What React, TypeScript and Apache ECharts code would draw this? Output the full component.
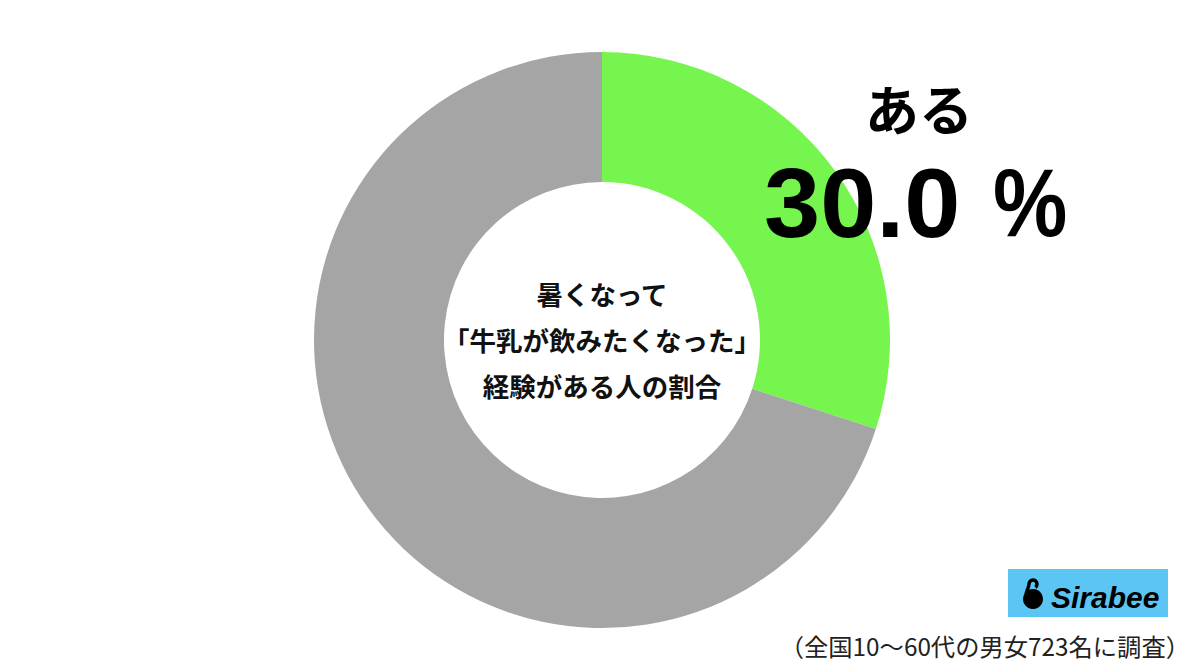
import React, { useEffect, useRef } from "react";
import * as echarts from "echarts";

const categories = ["ある", "ない"];
const values = [30.0, 70.0];
const colors = ["#76F54E", "#A5A5A5"];
const centerLines = ["暑くなって", "「牛乳が飲みたくなった」", "経験がある人の割合"];
const highlightLabel = "ある";
const highlightValue = "30.0";
const footnote = "（全国10〜60代の男女723名に調査）";

export default function App() {
  const ref = useRef<HTMLDivElement>(null);
  useEffect(() => {
    document.body.style.margin = "0";
    const chart = echarts.init(ref.current!, null, { renderer: "svg" });
    const jp = "'Noto Sans CJK JP', 'Noto Sans', sans-serif";
    chart.setOption({
      animation: false,
      backgroundColor: "#ffffff",
      series: [
        {
          type: "pie",
          center: [602, 340],
          radius: [158, 288],
          startAngle: 90,
          clockwise: true,
          silent: true,
          z: 1,
          label: { show: false },
          labelLine: { show: false },
          data: categories.map((c, i) => ({
            name: c,
            value: values[i],
            itemStyle: { color: colors[i] },
          })),
        },
      ],
      graphic: {
        elements: [
          ...centerLines.map((t, i) => ({
            type: "text",
            z: 100,
            x: 602,
            y: 293 + i * 46,
            style: {
              text: t,
              fill: "#111",
              font: `bold 26.5px ${jp}`,
              textAlign: "center",
              textVerticalAlign: "middle",
            },
          })),
          {
            type: "text",
            z: 100,
            x: 919,
            y: 107,
            style: {
              text: highlightLabel,
              fill: "#000",
              font: `bold 54px ${jp}`,
              textAlign: "center",
              textVerticalAlign: "middle",
            },
          },
          {
            type: "text",
            z: 100,
            x: 764,
            y: 203,
            scaleX: 1.03,
            style: {
              text: highlightValue,
              fill: "#000",
              font: "bold 98px 'Liberation Sans', Arial, sans-serif",
              textAlign: "left",
              textVerticalAlign: "middle",
            },
          },
          {
            type: "text",
            z: 100,
            x: 993,
            y: 203,
            scaleX: 0.87,
            style: {
              text: "%",
              fill: "#000",
              font: "bold 96px 'Liberation Sans', Arial, sans-serif",
              textAlign: "left",
              textVerticalAlign: "middle",
            },
          },
          {
            type: "text",
            z: 100,
            x: 1190,
            y: 645,
            style: {
              text: footnote,
              fill: "#222",
              font: `24.3px ${jp}`,
              textAlign: "right",
              textVerticalAlign: "middle",
            },
          },
          {
            type: "rect",
            z: 100,
            shape: { x: 1008, y: 569, width: 160, height: 48 },
            style: { fill: "#5BC6F3" },
          },
          {
            type: "circle",
            z: 101,
            shape: { cx: 1033, cy: 599, r: 10 },
            style: { fill: "#000" },
          },
          {
            type: "arc",
            z: 101,
            shape: { cx: 1033, cy: 584, r: 4, startAngle: Math.PI * 0.9, endAngle: Math.PI * 2.3 },
            style: { stroke: "#000", lineWidth: 3.5, fill: null },
          },
          {
            type: "line",
            z: 101,
            shape: { x1: 1029, y1: 585, x2: 1026, y2: 594 },
            style: { stroke: "#000", lineWidth: 3.5 },
          },
          {
            type: "text",
            z: 101,
            x: 1051,
            y: 597,
            style: {
              text: "Sirabee",
              fill: "#000",
              font: "italic bold 30px 'Liberation Sans', Arial, sans-serif",
              textAlign: "left",
              textVerticalAlign: "middle",
            },
          },
        ],
      },
    });
    return () => chart.dispose();
  }, []);
  return (
    <div
      ref={ref}
      style={{ position: "fixed", left: 0, top: 0, width: 1200, height: 670 }}
    />
  );
}
